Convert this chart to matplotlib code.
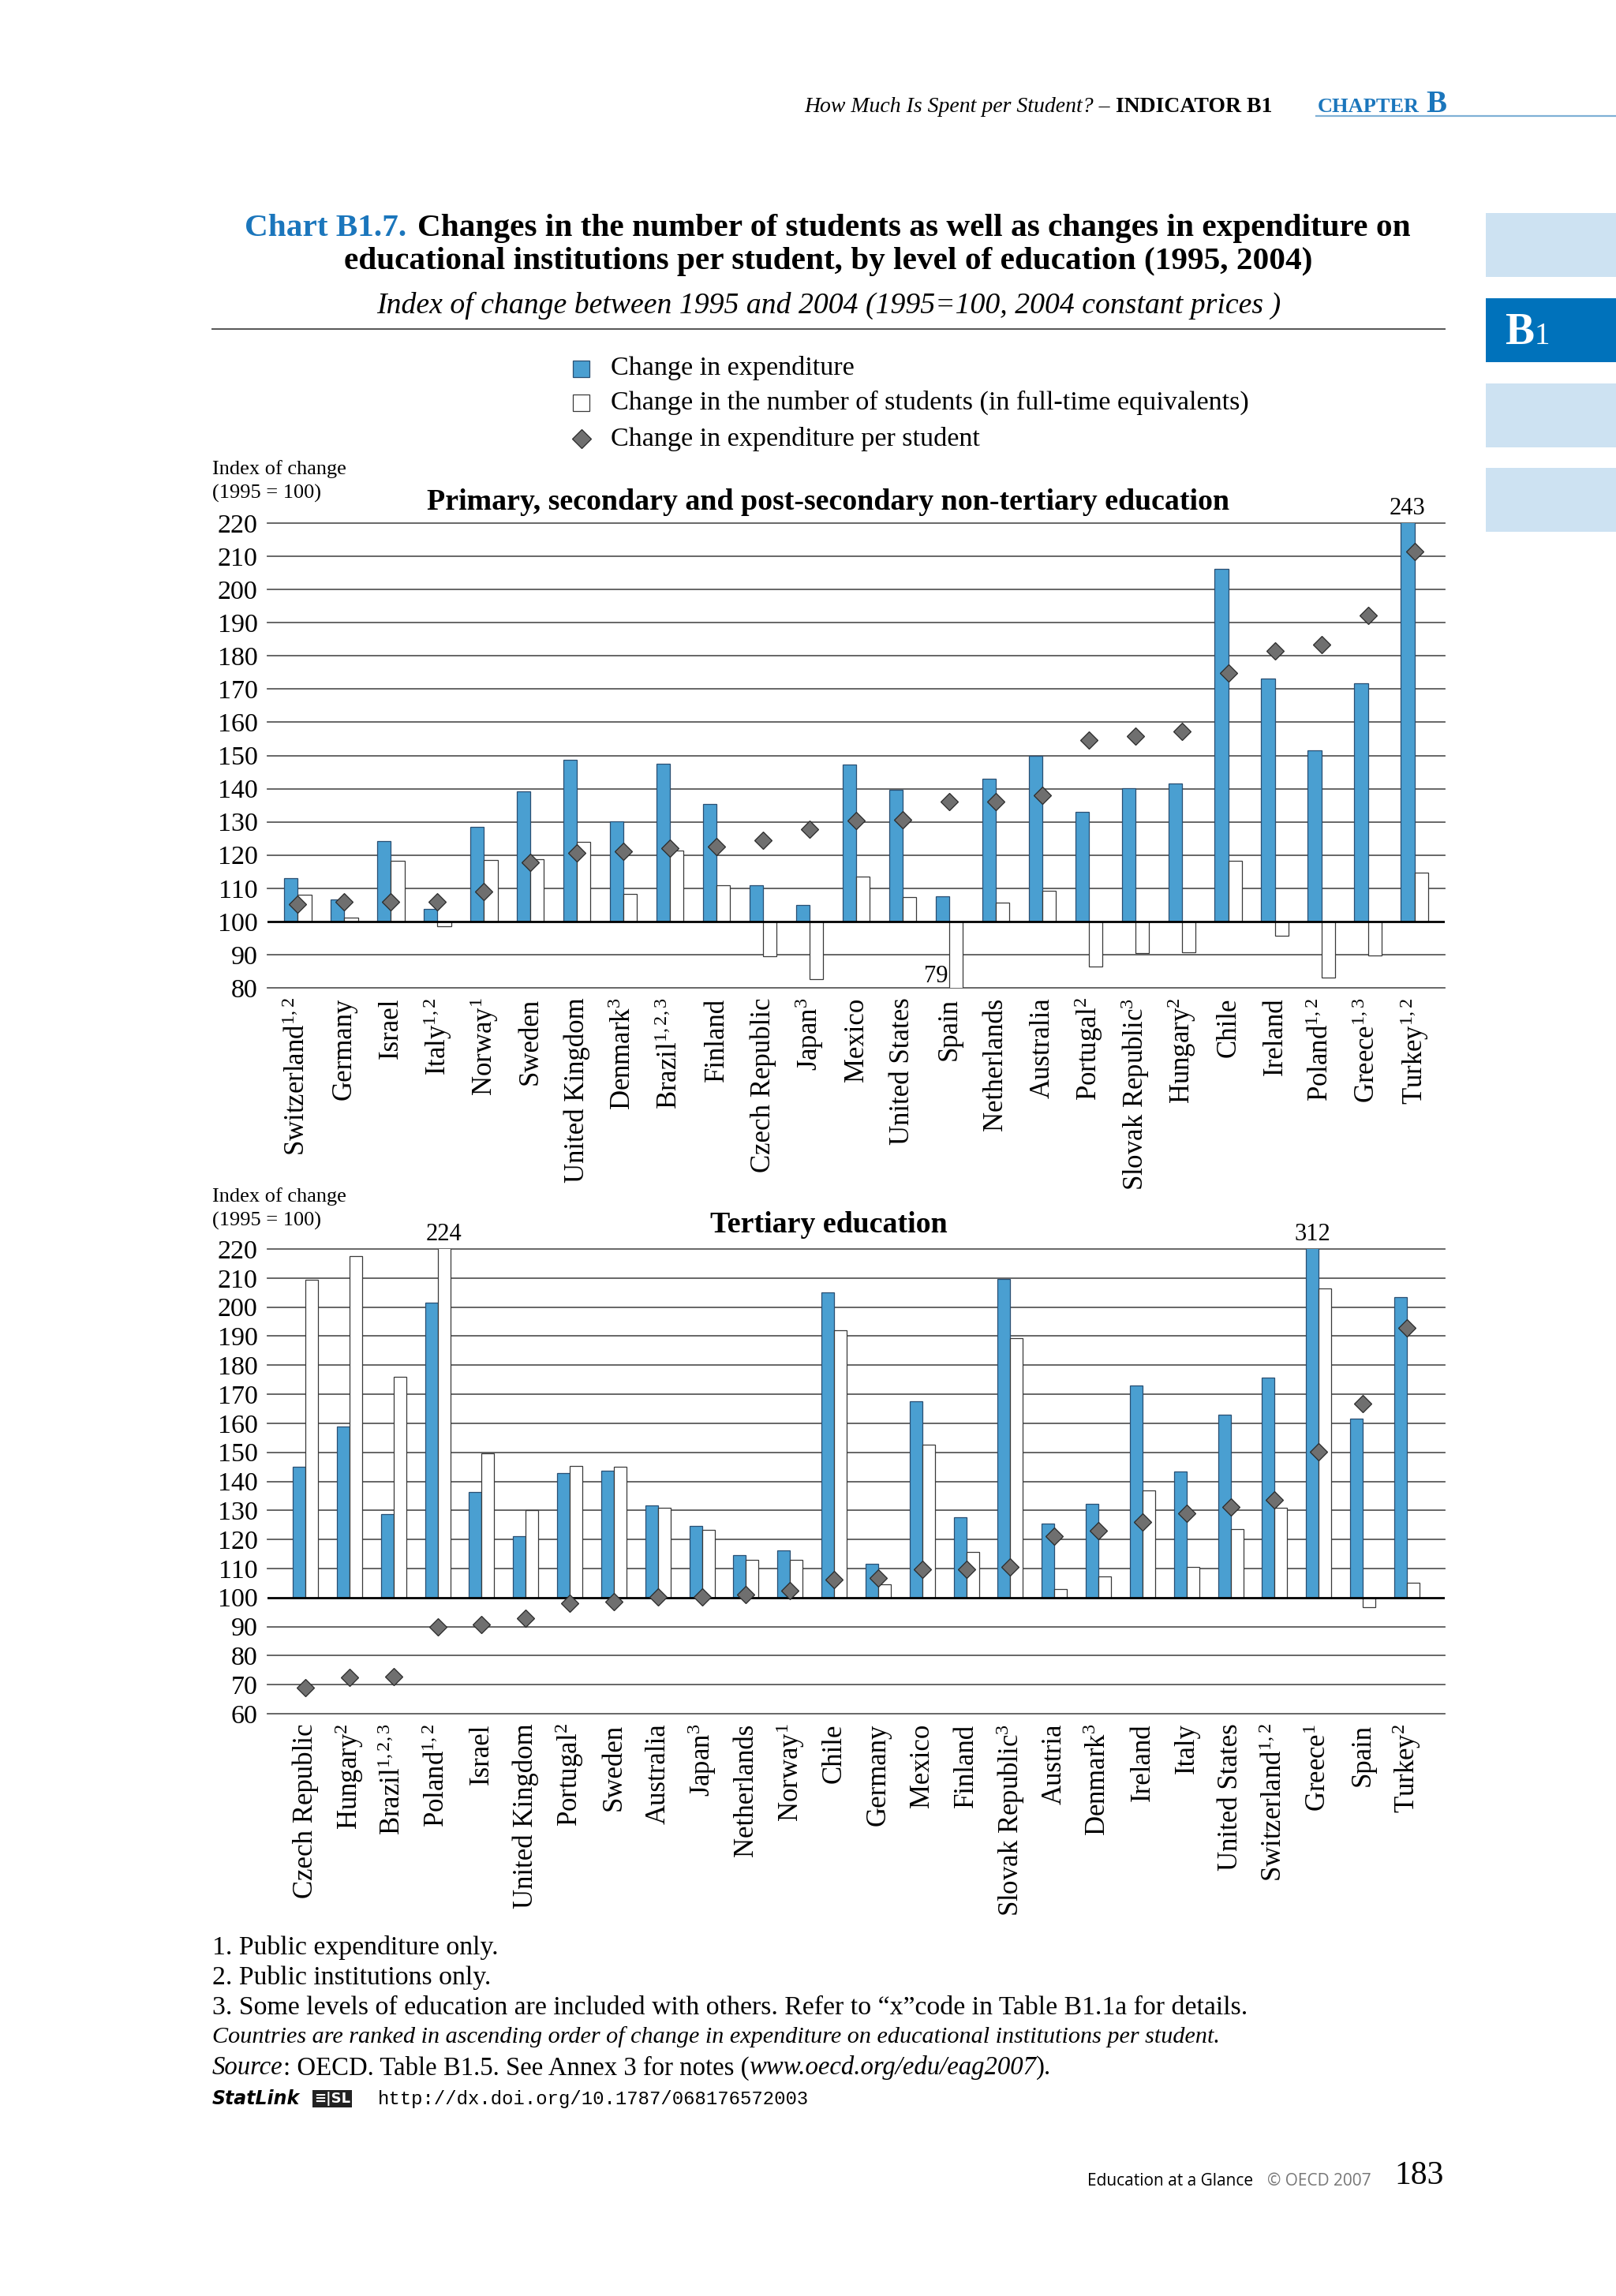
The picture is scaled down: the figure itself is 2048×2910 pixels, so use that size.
import matplotlib
matplotlib.use("Agg")
import matplotlib.pyplot as plt
from matplotlib.patches import Rectangle
from matplotlib.lines import Line2D
import numpy as np

W, H = 2048, 2910

plt.rcParams.update({
    "font.family": "Liberation Serif",
    "mathtext.fontset": "custom",
    "mathtext.rm": "Liberation Serif",
    "mathtext.it": "Liberation Serif:italic",
    "mathtext.bf": "Liberation Serif:bold",
})

# Primary, secondary and post-secondary non-tertiary education
prim_countries = [
    "Switzerland$^{1,2}$", "Germany", "Israel", "Italy$^{1,2}$", "Norway$^{1}$",
    "Sweden", "United Kingdom", "Denmark$^{3}$", "Brazil$^{1,2,3}$", "Finland",
    "Czech Republic", "Japan$^{3}$", "Mexico", "United States", "Spain",
    "Netherlands", "Australia", "Portugal$^{2}$", "Slovak Republic$^{3}$",
    "Hungary$^{2}$", "Chile", "Ireland", "Poland$^{1,2}$", "Greece$^{1,3}$",
    "Turkey$^{1,2}$",
]
prim_expenditure = [113, 106.6, 124.3, 103.7, 128.5, 139.1, 148.6, 130.2, 147.5, 135.3,
                    111, 105, 147.3, 139.6, 107.5, 142.9, 150, 133.1, 140.2, 141.6,
                    206.2, 173.2, 151.6, 171.7, 243]
prim_students = [108, 101.1, 118.2, 98.5, 118.5, 118.7, 123.9, 108.2, 121.3, 111,
                 89.6, 82.7, 113.5, 107.3, 79, 105.6, 109.2, 86.5, 90.5, 90.7,
                 118.3, 95.8, 83.1, 89.8, 114.8]
prim_per_student = [105.3, 105.8, 105.8, 105.8, 109.1, 117.9, 120.6, 121.1, 122.1, 122.6,
                    124.5, 127.8, 130.4, 130.7, 136, 136, 138, 154.6, 155.9, 157.2,
                    174.9, 181.6, 183.3, 192.1, 211.4]

# Tertiary education
tert_countries = [
    "Czech Republic", "Hungary$^{2}$", "Brazil$^{1,2,3}$", "Poland$^{1,2}$", "Israel",
    "United Kingdom", "Portugal$^{2}$", "Sweden", "Australia", "Japan$^{3}$",
    "Netherlands", "Norway$^{1}$", "Chile", "Germany", "Mexico", "Finland",
    "Slovak Republic$^{3}$", "Austria", "Denmark$^{3}$", "Ireland", "Italy",
    "United States", "Switzerland$^{1,2}$", "Greece$^{1}$", "Spain", "Turkey$^{2}$",
]
tert_expenditure = [145, 158.8, 128.6, 201.6, 136.3, 121.2, 142.9, 143.8, 131.6, 124.7,
                    114.5, 116.2, 205, 111.6, 167.6, 127.6, 209.7, 125.6, 132.3, 173,
                    143.3, 162.9, 175.6, 312, 161.6, 203.5]
tert_students = [209.5, 217.5, 175.9, 224, 149.7, 130, 145.2, 145, 130.8, 123.4,
                 113.1, 113.1, 191.9, 104.6, 152.5, 115.8, 189.4, 103, 107.2, 136.9,
                 110.6, 123.5, 131, 206.5, 96.7, 105.2]
tert_per_student = [69, 72.6, 72.9, 89.9, 90.6, 92.8, 98, 98.7, 100.1, 100.2,
                    100.9, 102.5, 106.3, 106.6, 109.6, 109.8, 110.4, 121.2, 123.1, 126,
                    129, 131.3, 133.6, 150.3, 166.8, 192.7]

legend_labels = [
    "Change in expenditure",
    "Change in the number of students (in full-time equivalents)",
    "Change in expenditure per student",
]

blue = "#4a9fd1"
blue_edge = "#2a4f72"
grid_col = "#5a5a5a"
diamond_face = "#6f6f6f"
diamond_edge = "#2a2a2a"
oecd_blue = "#1b76bc"


def fx(x):
    return x / W


def fy(y):
    return 1 - y / H


fig = plt.figure(figsize=(W / 100, H / 100), dpi=100)
renderer = fig.canvas.get_renderer()


def draw_panel(ax, labels, expenditure, students, per_student, ymin, xpad, bw):
    n = len(labels)
    x = np.arange(n)
    for v in range(ymin, 221, 10):
        if v != 100:
            ax.axhline(v, color=grid_col, lw=1.3, zorder=0, clip_on=False)
    ax.bar(x - bw / 2, np.array(expenditure) - 100, bw, bottom=100,
           color=blue, edgecolor=blue_edge, linewidth=0.9, zorder=2)
    ax.bar(x + bw / 2, np.array(students) - 100, bw, bottom=100,
           color="white", edgecolor="#3a3a3a", linewidth=0.9, zorder=2)
    ax.axhline(100, color="black", lw=2.0, zorder=3)
    ax.plot(x, per_student, ls="none", marker="D", ms=11.5,
            mfc=diamond_face, mec=diamond_edge, mew=0.9, zorder=4, clip_on=False)
    ax.set_xlim(-xpad, n - 1 + xpad)
    ax.set_ylim(ymin, 220)
    ax.set_yticks(range(ymin, 221, 10))
    ax.set_xticks(x)
    ax.set_xticklabels(labels, rotation=90, fontsize=25)
    ax.tick_params(axis="x", length=0, pad=9)
    ax.tick_params(axis="y", length=0, pad=9, labelsize=24.5)
    for s in ax.spines.values():
        s.set_visible(False)
    ax.patch.set_alpha(0)
    return x


# top panel
ax1 = fig.add_axes([fx(339), fy(1252), (1831 - 339) / W, (1252 - 663) / H])
x1 = draw_panel(ax1, prim_countries, prim_expenditure, prim_students,
                prim_per_student, 80, 0.65, 0.293)
ax1.text(x1[-1] - 0.15, 221, "243", ha="center", va="bottom", fontsize=22)
ax1.text(x1[14] - 0.02, 83.5, "79", ha="right", va="center", fontsize=22)

# bottom panel
ax2 = fig.add_axes([fx(339), fy(2172), (1831 - 339) / W, (2172 - 1583) / H])
x2 = draw_panel(ax2, tert_countries, tert_expenditure, tert_students,
                tert_per_student, 60, 0.86, 0.287)
ax2.text(x2[3] + 0.14, 221, "224", ha="center", va="bottom", fontsize=22)
ax2.text(x2[23] - 0.14, 221, "312", ha="center", va="bottom", fontsize=22)

# panel titles and axis captions
fig.text(fx(1050), fy(636), "Primary, secondary and post-secondary non-tertiary education",
         ha="center", va="center", fontsize=27.3, fontweight="bold")
fig.text(fx(1050), fy(1553), "Tertiary education",
         ha="center", va="center", fontsize=27.3, fontweight="bold")
for ytop in (595, 1517):
    fig.text(fx(269), fy(ytop), "Index of change", ha="left", va="center", fontsize=19)
    fig.text(fx(269), fy(ytop + 30), "(1995 = 100)", ha="left", va="center", fontsize=19)

# legend
leg_y = [467, 510, 556]
fig.add_artist(Rectangle((fx(726), fy(leg_y[0] + 11)), 21 / W, 21 / H,
                         transform=fig.transFigure, facecolor=blue, edgecolor=blue_edge, lw=0.9))
fig.add_artist(Rectangle((fx(726), fy(leg_y[1] + 11)), 21 / W, 21 / H,
                         transform=fig.transFigure, facecolor="white", edgecolor="#3a3a3a", lw=0.9))
fig.add_artist(Line2D([fx(736.5)], [fy(leg_y[2])], transform=fig.transFigure, ls="none",
                      marker="D", ms=12, mfc=diamond_face, mec=diamond_edge, mew=0.9))
for yy, lab in zip(leg_y, legend_labels):
    fig.text(fx(774), fy(yy), lab, ha="left", va="center", fontsize=24.6)

# header
t = fig.text(fx(1612), fy(142), "INDICATOR B1", ha="right", va="baseline",
             fontsize=20, fontweight="bold")
bb = t.get_window_extent(renderer)
fig.text((bb.x0 - 7) / W, fy(142), "How Much Is Spent per Student? \u2013", ha="right",
         va="baseline", fontsize=20, fontstyle="italic")
t = fig.text(fx(1670), fy(142), "CHAPTER", ha="left", va="baseline", fontsize=19,
             color=oecd_blue, fontweight="bold")
bb = t.get_window_extent(renderer)
fig.text((bb.x1 + 8) / W, fy(142), "B", ha="left", va="baseline", fontsize=28,
         color=oecd_blue, fontweight="bold")
fig.add_artist(Line2D([fx(1668), 1.0], [fy(147), fy(147)], transform=fig.transFigure,
                      color="#7fb0d6", lw=1.6))

# sidebar
for ytop, ybot, col in [(270, 351, "#cde2f2"), (378, 459, "#0072bb"),
                        (486, 567, "#cde2f2"), (593, 674, "#cde2f2")]:
    fig.add_artist(Rectangle((fx(1883), fy(ybot)), (W - 1883) / W, (ybot - ytop) / H,
                             transform=fig.transFigure, facecolor=col, edgecolor="none"))
t = fig.text(fx(1907), fy(436), "B", ha="left", va="baseline", fontsize=40,
             color="white", fontweight="bold")
bb = t.get_window_extent(renderer)
fig.text((bb.x1 + 1) / W, fy(436), "1", ha="left", va="baseline", fontsize=28, color="white")

# chart title
t = fig.text(fx(310), fy(299), "Chart B1.7.", ha="left", va="baseline", fontsize=29.7,
             fontweight="bold", color=oecd_blue)
bb = t.get_window_extent(renderer)
fig.text((bb.x1 + 14) / W, fy(299),
         "Changes in the number of students as well as changes in expenditure on",
         ha="left", va="baseline", fontsize=29.7, fontweight="bold")
fig.text(fx(1050), fy(341),
         "educational institutions per student, by level of education (1995, 2004)",
         ha="center", va="baseline", fontsize=29.7, fontweight="bold")
fig.text(fx(1050), fy(397),
         "Index of change between 1995 and 2004 (1995=100, 2004 constant prices )",
         ha="center", va="baseline", fontsize=27.2, fontstyle="italic")
fig.add_artist(Line2D([fx(269), fx(1831)], [fy(417), fy(417)], transform=fig.transFigure,
                      color="#555555", lw=1.4))

# footnotes
notes = [
    "1. Public expenditure only.",
    "2. Public institutions only.",
    "3. Some levels of education are included with others. Refer to \u201cx\u201dcode in Table B1.1a for details.",
]
for yy, note in zip([2469, 2506, 2545], notes):
    fig.text(fx(269), fy(yy), note, ha="left", va="center", fontsize=24.3)
fig.text(fx(269), fy(2582),
         "Countries are ranked in ascending order of change in expenditure on educational institutions per student.",
         ha="left", va="center", fontsize=21.7, fontstyle="italic")


def chain(parts, x, y):
    for txt, kw in parts:
        tt = fig.text(x / W, fy(y), txt, ha="left", va="center", **kw)
        x = tt.get_window_extent(renderer).x1
    return x


chain([("Source", dict(fontsize=23.6, fontstyle="italic")),
       (": OECD. Table B1.5. See Annex 3 for notes (", dict(fontsize=23.6)),
       ("www.oecd.org/edu/eag2007", dict(fontsize=23.6, fontstyle="italic")),
       (").", dict(fontsize=23.6))], 269, 2621)

chain([("StatLink", dict(fontsize=17, family="DejaVu Sans", fontweight="bold",
                         fontstyle="italic"))], 269, 2660)
fig.text(fx(398), fy(2660), "\u2261|SL", ha="left", va="center", fontsize=13,
         family="DejaVu Sans", fontweight="bold", color="white",
         bbox=dict(boxstyle="square,pad=0.12", fc="#222222", ec="none"))
fig.text(fx(479), fy(2660), "http://dx.doi.org/10.1787/068176572003", ha="left",
         va="center", fontsize=17.2, family="Liberation Mono")

# footer
t = fig.text(fx(1378), fy(2764), "Education at a Glance", ha="left", va="center",
             fontsize=15, family="Open Sans")
bb = t.get_window_extent(renderer)
fig.text((bb.x1 + 18) / W, fy(2764), "\u00a9 OECD 2007", ha="left", va="center",
         fontsize=15, family="Open Sans", color="#777777")
fig.text(fx(1830), fy(2758), "183", ha="right", va="center", fontsize=30)

fig.savefig("out.png", dpi=100, facecolor="white")
